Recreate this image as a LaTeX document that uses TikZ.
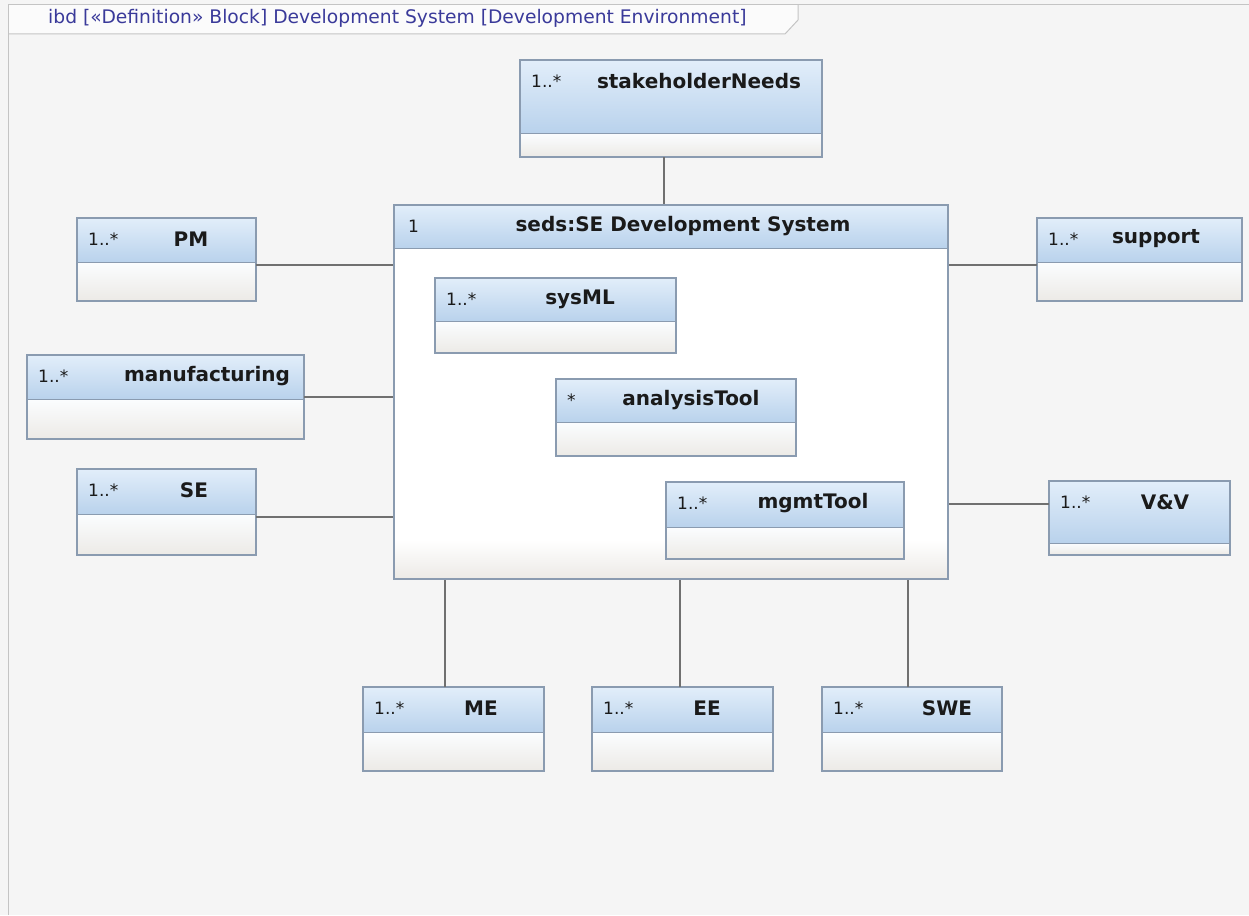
\documentclass[tikz,border=0pt]{standalone}
\usepackage{fontspec}
\setmainfont{DejaVu Sans}
\begin{document}
\begin{tikzpicture}[x=1pt,y=-1pt,
  conn/.style={draw=lcol,line width=1.3pt},
  mult/.style={anchor=west,inner sep=0,font=\fontsize{17}{19}\selectfont,text=tcol},
  pname/.style={inner sep=0,font=\fontsize{20}{22}\selectfont\bfseries,text=tcol},
]
\definecolor{bg}{HTML}{F5F5F5}
\definecolor{bcol}{HTML}{8A9BB0}
\definecolor{lcol}{HTML}{707070}
\definecolor{tcol}{HTML}{1A1A1A}
\definecolor{hdtop}{HTML}{E2EEFA}
\definecolor{hdbot}{HTML}{B9D2EC}
\definecolor{cmtop}{HTML}{FBFDFF}
\definecolor{cmbot}{HTML}{ECEAE6}
\definecolor{titlecol}{HTML}{3A3A9A}
\definecolor{framecol}{HTML}{C4C4C4}

\newcommand\partbox[9]{%
  \fill[top color=hdtop,bottom color=hdbot] (#2,#3) rectangle (#4,#5);
  \fill[top color=cmtop,bottom color=cmbot] (#2,#5) rectangle (#4,#6);
  \draw[bcol,line width=1pt] (#2,#5) -- (#4,#5);
  \node[draw=bcol,line width=1.1pt,inner sep=0,outer sep=0,
        minimum width={(#4-#2)*1pt},minimum height={(#6-#3)*1pt}]
        (#1) at ({(#2+#4)/2},{(#3+#6)/2}) {};
  \node[mult] (#1m) at ({#2+11},{#3+21}) {#7};
  \node[pname] (#1n) at (#9,{#3+21}) {#8};
}

% background and frame
\fill[bg] (0,0) rectangle (1249,915);
\useasboundingbox (0,0) rectangle (1249,915);
\fill[white!60!bg] (8,5) -- (798,5) -- (798,20) -- (785,34) -- (8,34) -- cycle;
\draw[framecol,line width=1pt] (8,915) -- (8,5) -- (1249,5);
\draw[framecol,line width=1pt] (798,5) -- (798,20) -- (785,34) -- (8,34);
\node[anchor=west,inner sep=0,text=titlecol,font=\fontsize{18.7}{20}\selectfont] (title) at (48,18)
  {ibd [«Definition» Block] Development System [Development Environment]};

% main part
\fill[top color=hdtop,bottom color=hdbot] (394,205) rectangle (948,248);
\fill[white] (394,248) rectangle (948,540);
\fill[top color=white,bottom color=cmbot] (394,540) rectangle (948,579);
\draw[bcol,line width=1pt] (394,248) -- (948,248);
\node[draw=bcol,line width=1.1pt,inner sep=0,minimum width=554pt,minimum height=374pt] (seds) at (671,392) {};
\node[mult] (sedsm) at (408,226) {1};
\node[pname] (sedsn) at (683,226) {seds:SE Development System};

% inner parts
\partbox{sysml}{435}{278}{676}{321}{353}{1..*}{sysML}{580}
\partbox{analysis}{556}{379}{796}{422}{456}{*}{analysisTool}{691}
\partbox{mgmt}{666}{482}{904}{527}{559}{1..*}{mgmtTool}{813}

% outer parts
\partbox{stake}{520}{60}{822}{133}{157}{1..*}{stakeholderNeeds}{699}
\partbox{pm}{77}{218}{256}{262}{301}{1..*}{PM}{191}
\partbox{support}{1037}{218}{1242}{262}{301}{1..*}{support}{1156}
\partbox{manuf}{27}{355}{304}{399}{439}{1..*}{manufacturing}{207}
\partbox{se}{77}{469}{256}{514}{555}{1..*}{SE}{194}
\partbox{vv}{1049}{481}{1230}{543}{555}{1..*}{V\&V}{1165}
\partbox{me}{363}{687}{544}{732}{771}{1..*}{ME}{481}
\partbox{ee}{592}{687}{773}{732}{771}{1..*}{EE}{707}
\partbox{swe}{822}{687}{1002}{732}{771}{1..*}{SWE}{947}

% connectors
\draw[conn] ([xshift=-7pt]stake.south) -- ([xshift=-7pt]stake.south |- seds.north);
\draw[conn] ([yshift=-5.5pt]pm.east) -- ([yshift=-5.5pt]pm.east -| seds.west);
\draw[conn] (manuf.east) -- (manuf.east -| seds.west);
\draw[conn] ([yshift=-5pt]se.east) -- ([yshift=-5pt]se.east -| seds.west);
\draw[conn] ([yshift=-5.5pt]support.west) -- ([yshift=-5.5pt]support.west -| seds.east);
\draw[conn] ([yshift=14pt]vv.west) -- ([yshift=14pt]vv.west -| seds.east);
\draw[conn] ([xshift=-8.5pt]me.north) -- ([xshift=-8.5pt]me.north |- seds.south);
\draw[conn] ([xshift=-2.5pt]ee.north) -- ([xshift=-2.5pt]ee.north |- seds.south);
\draw[conn] ([xshift=-4pt]swe.north) -- ([xshift=-4pt]swe.north |- seds.south);
\end{tikzpicture}
\end{document}
